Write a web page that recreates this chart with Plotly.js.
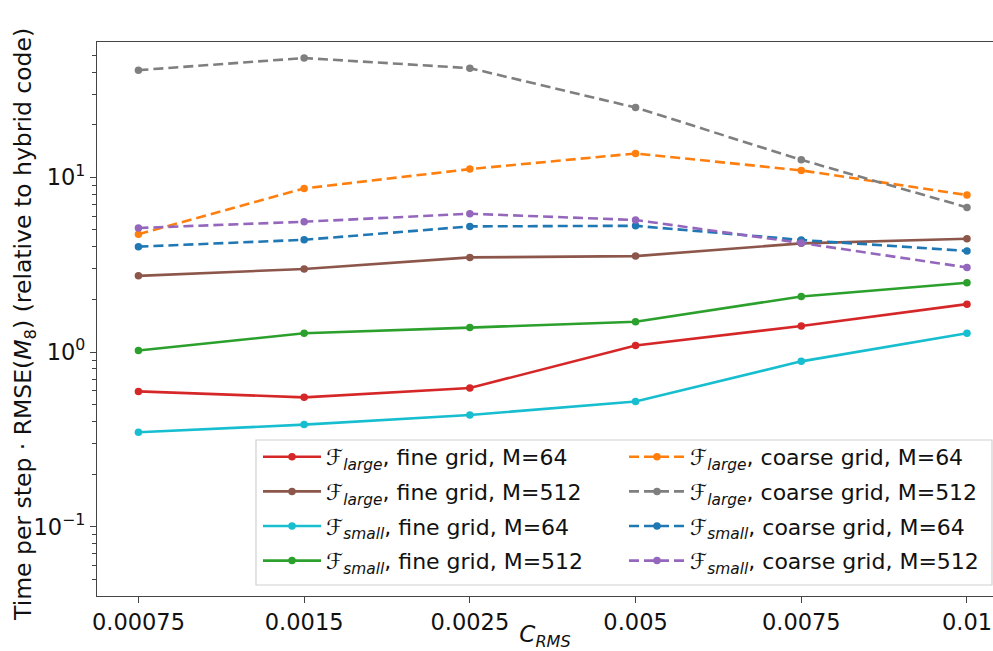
<!DOCTYPE html>
<html><head><meta charset="utf-8">
<script src="https://cdn.plot.ly/plotly-3.0.1.min.js"></script>
<style>html,body{margin:0;padding:0;overflow:hidden;background:#fff}</style>
</head><body><div id="chart" style="width:993px;height:651px"></div>
<script>
const cRms = ["0.00075","0.0015","0.0025","0.005","0.0075","0.01"];

const largeFine64   = [0.595, 0.550, 0.622, 1.09, 1.41, 1.88];
const largeFine512  = [2.73, 2.99, 3.48, 3.54, 4.19, 4.45];
const smallFine64   = [0.347, 0.384, 0.436, 0.521, 0.884, 1.28];
const smallFine512  = [1.02, 1.28, 1.38, 1.49, 2.08, 2.49];
const largeCoarse64  = [4.73, 8.64, 11.15, 13.7, 10.96, 7.92];
const largeCoarse512 = [41.1, 48.2, 42.2, 25.1, 12.6, 6.73];
const smallCoarse64  = [4.01, 4.39, 5.24, 5.28, 4.38, 3.79];
const smallCoarse512 = [5.13, 5.57, 6.19, 5.70, 4.21, 3.05];

const yTickVals = [0.1, 1, 10];
const yTickText = ["10<sup>−1</sup>", "10<sup>0</sup>", "10<sup>1</sup>"];
const yTitle = "Time per step · RMSE(<i>M</i><sub>8</sub>) (relative to hybrid code)";
const xTitle = "<i>C<sub>RMS</sub></i>";

const seriesNames = [
  "ℱ<sub><i>large</i></sub>, fine grid, M=64",
  "ℱ<sub><i>large</i></sub>, fine grid, M=512",
  "ℱ<sub><i>small</i></sub>, fine grid, M=64",
  "ℱ<sub><i>small</i></sub>, fine grid, M=512",
  "ℱ<sub><i>large</i></sub>, coarse grid, M=64",
  "ℱ<sub><i>large</i></sub>, coarse grid, M=512",
  "ℱ<sub><i>small</i></sub>, coarse grid, M=64",
  "ℱ<sub><i>small</i></sub>, coarse grid, M=512"
];
const seriesValues = [largeFine64, largeFine512, smallFine64, smallFine512,
                      largeCoarse64, largeCoarse512, smallCoarse64, smallCoarse512];
const colors = ["#d62728","#8c564b","#17becf","#2ca02c","#ff7f0e","#7f7f7f","#1f77b4","#9467bd"];

const traces = seriesValues.map((v, i) => ({
  type: "scatter", mode: "lines+markers",
  x: cRms, y: v, name: seriesNames[i],
  legend: i < 4 ? "legend" : "legend2",
  legendgroup: "g" + i,
  line: {color: colors[i], width: 2.6, dash: i < 4 ? "solid" : "10px,5px"},
  marker: {color: colors[i], size: 7.5}
}));

const W = 993, H = 651, L = 97, T = 42, B = 55;
const pw = W - L, ph = H - T - B;
const px2x = p => (p - L) / pw;
const py2y = p => (H - B - p) / ph;
const font = "DejaVu Sans, sans-serif";

const layout = {
  width: W, height: H,
  margin: {l: L, r: 0, t: T, b: B, autoexpand: false},
  paper_bgcolor: "#fff", plot_bgcolor: "#fff",
  font: {family: font, size: 22, color: "#111"},
  showlegend: true,
  xaxis: {
    type: "category", range: [-0.25, 5.157],
    showgrid: false, zeroline: false,
    showline: true, linecolor: "#444", linewidth: 1.2, mirror: true,
    ticks: "outside", ticklen: 6, tickcolor: "#444",
    tickfont: {size: 22.5},
    title: {text: xTitle, font: {size: 23}}
  },
  yaxis: {
    type: "log", range: [-1.397, 1.775],
    showgrid: false, zeroline: false,
    showline: true, linecolor: "#444", linewidth: 1.2,
    ticks: "outside", ticklen: 6, tickcolor: "#444",
    tickmode: "array", tickvals: yTickVals, ticktext: yTickText,
    tickfont: {size: 22.5},
    minor: {ticks: "outside", ticklen: 3.5, tickcolor: "#444", dtick: "D1", showgrid: false}
  },
  annotations: [{
    text: yTitle, textangle: -90, showarrow: false,
    xref: "paper", yref: "paper", x: px2x(25), y: py2y(325),
    xanchor: "center", yanchor: "middle", font: {size: 23.5}
  }],
  legend: {
    xref: "container", yref: "container",
    x: 258 / W, y: 1 - 436 / H, xanchor: "left", yanchor: "top",
    bgcolor: "rgba(0,0,0,0)", borderwidth: 0,
    font: {size: 22}, tracegroupgap: 3, itemwidth: 58
  },
  legend2: {
    xref: "container", yref: "container",
    x: 624 / W, y: 1 - 436 / H, xanchor: "left", yanchor: "top",
    bgcolor: "rgba(0,0,0,0)", borderwidth: 0,
    font: {size: 22}, tracegroupgap: 3, itemwidth: 56
  },
  shapes: [{
    type: "rect", xref: "paper", yref: "paper", layer: "above",
    x0: px2x(256), x1: px2x(992), y0: py2y(585), y1: py2y(440),
    fillcolor: "rgba(255,255,255,0.85)", line: {color: "#d0d0d0", width: 1.2}
  }]
};

Plotly.newPlot("chart", traces, layout, {displayModeBar: false, staticPlot: true});
</script>
</body></html>
